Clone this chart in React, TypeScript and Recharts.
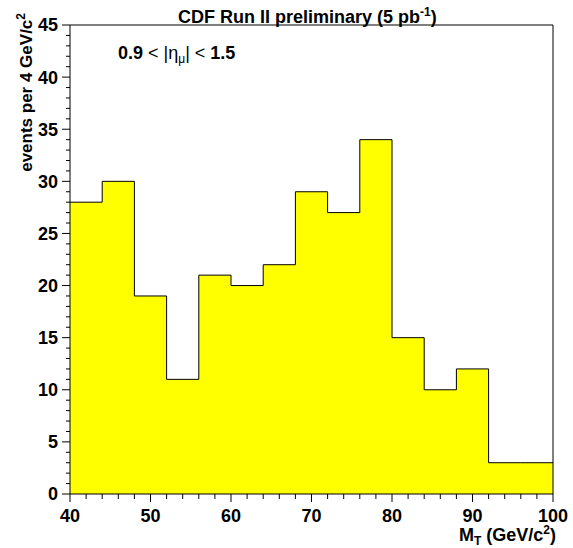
import React from "react";
import { Area, AreaChart, ReferenceLine, XAxis, YAxis } from "recharts";

// lower bin edges (GeV/c^2), 4 GeV bins from 40 to 100
const binEdges = [40, 44, 48, 52, 56, 60, 64, 68, 72, 76, 80, 84, 88, 92, 96, 100];
// events per bin
const binCounts = [28, 30, 19, 11, 21, 20, 22, 29, 27, 34, 15, 10, 12, 3, 3];

const xMajor = [40, 50, 60, 70, 80, 90, 100];
const yMajor = [0, 5, 10, 15, 20, 25, 30, 35, 40, 45];
const xTicks = Array.from({ length: 31 }, (_, i) => 40 + i * 2);
const yTicks = Array.from({ length: 46 }, (_, i) => i);

// step data: last edge repeats last count so the step closes at 100
const histData = binEdges.map((edge, i) => ({
  mt: edge,
  n: binCounts[Math.min(i, binCounts.length - 1)],
}));

const FONT = '"Liberation Sans", Arial, sans-serif';

const YTick = (props: any) => {
  const { x, y, payload } = props;
  const major = yMajor.includes(payload.value);
  return (
    <g>
      <line x1={x} x2={x - (major ? 8 : 4)} y1={y} y2={y} stroke="#000" />
      {major && (
        <text x={x - 12} y={y} dy="0.36em" textAnchor="end" fontFamily={FONT} fontWeight="bold" fontSize={18} fill="#000">
          {payload.value}
        </text>
      )}
    </g>
  );
};

const XTick = (props: any) => {
  const { x, y, payload } = props;
  const major = xMajor.includes(payload.value);
  return (
    <g>
      <line x1={x} x2={x} y1={y} y2={y + (major ? 8 : 5)} stroke="#000" />
      {major && (
        <text x={x} y={y + 28} textAnchor="middle" fontFamily={FONT} fontWeight="bold" fontSize={18} fill="#000">
          {payload.value}
        </text>
      )}
    </g>
  );
};

export default function App() {
  return (
    <div style={{ position: "absolute", left: 0, top: 0, width: 573, height: 548, background: "#fff" }}>
      <AreaChart width={573} height={548} data={histData} margin={{ top: 25, right: 20, bottom: 0, left: 0 }}>
        <Area
          dataKey="n"
          type="stepAfter"
          fill="#ffff00"
          fillOpacity={1}
          stroke="#000"
          strokeWidth={1}
          isAnimationActive={false}
          dot={false}
          activeDot={false}
        />
        <XAxis
          dataKey="mt"
          type="number"
          domain={[40, 100]}
          ticks={xTicks}
          interval={0}
          height={54}
          tickSize={0}
          tickMargin={0}
          tick={<XTick />}
          axisLine={{ stroke: "#000" }}
          tickLine={false}
        />
        <YAxis
          type="number"
          domain={[0, 45]}
          ticks={yTicks}
          interval={0}
          width={70}
          tickSize={0}
          tickMargin={0}
          tick={<YTick />}
          axisLine={{ stroke: "#000" }}
          tickLine={false}
        />
        <ReferenceLine y={45} stroke="#000" />
        <ReferenceLine x={100} stroke="#000" />
      </AreaChart>
      <svg width={573} height={548} style={{ position: "absolute", left: 0, top: 0, pointerEvents: "none" }}>
        <text x={178} y={23} fontFamily={FONT} fontWeight="bold" fontSize={18} fill="#000">
          CDF Run II preliminary (5 pb
          <tspan dy={-7} fontSize={12}>-1</tspan>
          <tspan dy={7}>)</tspan>
        </text>
        <text x={118} y={59} fontFamily={FONT} fontSize={18} fill="#000">
          <tspan fontWeight="bold">0.9</tspan>
          <tspan> &lt; |η</tspan>
          <tspan dy={4} fontSize={12}>μ</tspan>
          <tspan dy={-4}>| &lt; </tspan>
          <tspan fontWeight="bold">1.5</tspan>
        </text>
        <text transform="translate(32,13) rotate(-90)" textAnchor="end" fontFamily={FONT} fontWeight="bold" fontSize={17} fill="#000">
          events per 4 GeV/c
          <tspan dy={-7} fontSize={12}>2</tspan>
        </text>
        <text x={556} y={541} textAnchor="end" fontFamily={FONT} fontWeight="bold" fontSize={18} fill="#000">
          M
          <tspan dy={4} fontSize={12}>T</tspan>
          <tspan dy={-4}> (GeV/c</tspan>
          <tspan dy={-7} fontSize={12}>2</tspan>
          <tspan dy={7}>)</tspan>
        </text>
      </svg>
    </div>
  );
}
